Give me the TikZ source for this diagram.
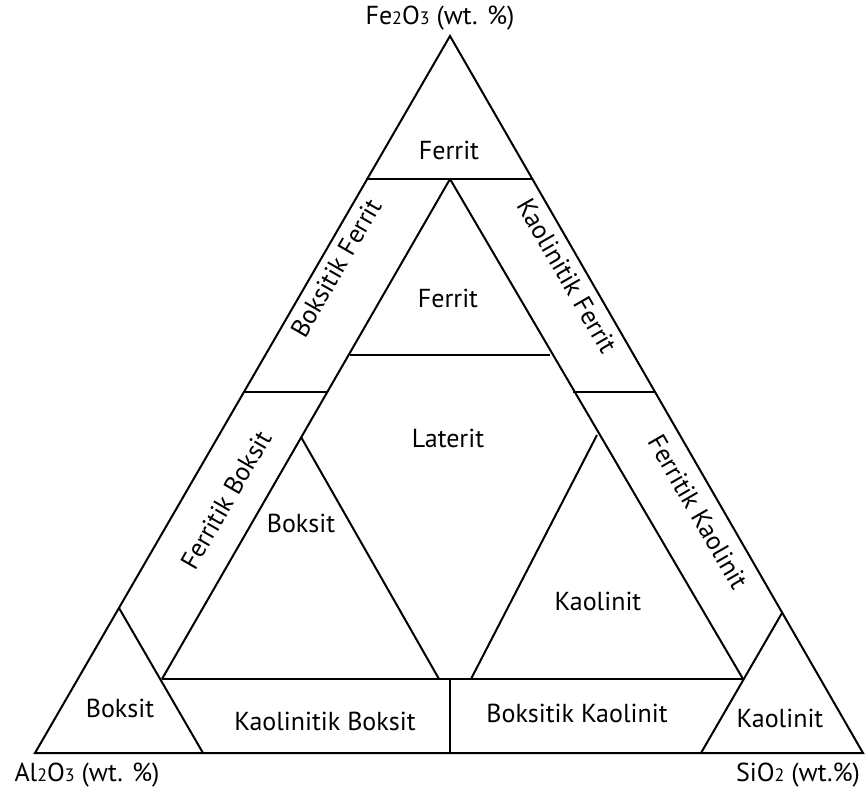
\documentclass[tikz,border=0pt]{standalone}
\usepackage{fontspec}
\setmainfont{PT Sans}
\newcommand\smdig[1]{{\fontsize{18}{18}\selectfont #1}}
\begin{document}
\begin{tikzpicture}[x=1pt,y=-1pt,line width=2pt,line join=miter,
  lab/.style={font=\fontsize{26}{30}\selectfont,inner sep=0pt},
  axl/.style={font=\fontsize{26}{30}\selectfont,inner sep=0pt}]
\useasboundingbox (0,0) rectangle (865,793);
% corners
\coordinate (A) at (35,753);
\coordinate (F) at (450,36);
\coordinate (S) at (863,753);
% top triangle line
\coordinate (tl) at (366,179);
\coordinate (tr) at (533,179);
\coordinate (im) at (450,179);
% inner Ferrit base
\coordinate (fl) at (350,355);
\coordinate (fr) at (550,355);
% band dividers
\coordinate (ml) at (244,392);
\coordinate (mli) at (327,392);
\coordinate (mri) at (573,392);
\coordinate (mr) at (655,392);
% inner triangles
\coordinate (ba) at (301,437);
\coordinate (bb) at (439,679);
\coordinate (ka) at (597,435);
\coordinate (kb) at (471,679);
% corner triangles
\coordinate (la) at (119,608);
\coordinate (lb) at (203,753);
\coordinate (lc) at (162,679);
\coordinate (ra) at (782,613);
\coordinate (rb) at (701,753);
\coordinate (rc) at (743,679);
\coordinate (vm) at (450,679);
\coordinate (vb) at (450,753);

\draw (A) -- (F) -- (S) -- cycle;
\draw (tl) -- (tr);
\draw (im) -- (lc);
\draw (im) -- (rc);
\draw (fl) -- (fr);
\draw (ml) -- (mli);
\draw (mri) -- (mr);
\draw (la) -- (lb);
\draw (ra) -- (rb);
\draw (lc) -- (rc);
\draw (vm) -- (vb);
\draw (ba) -- (bb);
\draw (ka) -- (kb);

% axis labels
\node[axl] (fe) at (440,18) {Fe\smdig{2}O\smdig{3} (wt. \%)};
\node[axl] (al) at (87,775) {Al\smdig{2}O\smdig{3} (wt. \%)};
\node[axl] (si) at (798,775) {SiO\smdig{2} (wt.\%)};
% region labels
\node[lab] (f1) at (449,150) {Ferrit};
\node[lab,rotate=60] (bf) at (336,268) {Boksitik Ferrit};
\node[lab,rotate=-60] (kf) at (567,276) {Kaolinitik Ferrit};
\node[lab] (f2) at (448,298) {Ferrit};
\node[lab] (lt) at (448,438) {Laterit};
\node[lab,rotate=60] (fb) at (226,500) {Ferritik Boksit};
\node[lab,rotate=-60] (fk) at (698,512) {Ferritik Kaolinit};
\node[lab] (b1) at (301,523) {Boksit};
\node[lab] (k1) at (598,601) {Kaolinit};
\node[lab] (b2) at (120,708) {Boksit};
\node[lab] (kbk) at (325,721) {Kaolinitik Boksit};
\node[lab] (bkk) at (577,713) {Boksitik Kaolinit};
\node[lab] (k2) at (780,718) {Kaolinit};
\end{tikzpicture}
\end{document}
